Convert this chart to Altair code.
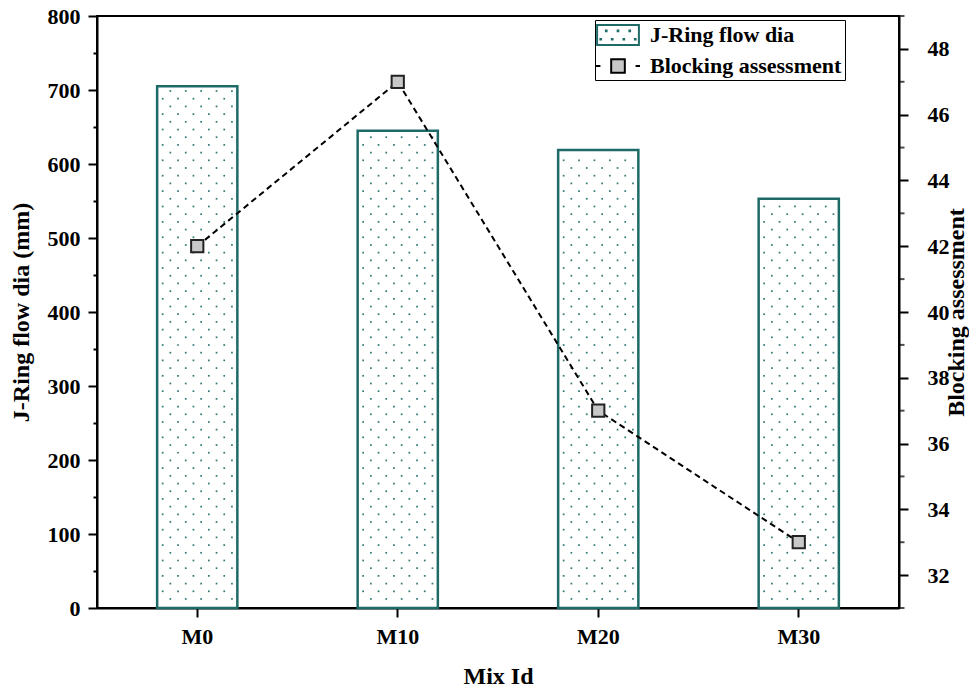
import altair as alt
import pandas as pd
import numpy as np

mixes = ["M0", "M10", "M20", "M30"]
flow_dia = [705, 645, 619, 553]
blocking = [42, 47, 37, 33]
series_names = ["J-Ring flow dia", "Blocking assessment"]
right_major = list(range(32, 49, 2))
right_minor = list(range(31, 50, 2))

TEAL = "#1d6a67"
FONT = "Liberation Serif"

df = pd.DataFrame({"mix": mixes, "flow": flow_dia, "block": blocking})

# dotted texture inside the bars (decoration only, derived from bar heights)
rows = []
for m, v in zip(mixes, flow_dia):
    k = 0
    while True:
        yv = 12.2 + 10.4 * k
        if yv > v - 4:
            break
        start = 13.2 if k % 2 == 0 else 5.5
        for j in range(5):
            rows.append({"mix": m, "flow": yv, "dx": start + 15.4 * j})
        k += 1
dots = pd.DataFrame(rows)

xscale = alt.Scale(paddingInner=0.6, paddingOuter=0.3)
xenc = alt.X(
    "mix:N",
    sort=mixes,
    scale=xscale,
    axis=alt.Axis(
        title="Mix Id", labelAngle=0, tickSize=9, labelPadding=9,
        titlePadding=17,
    ),
)

left_vals = list(range(0, 801, 50))
yleft = alt.Y(
    "flow:Q",
    scale=alt.Scale(domain=[0, 800], nice=False),
    axis=alt.Axis(
        orient="left",
        title="J-Ring flow dia (mm)",
        values=left_vals,
        labelExpr="datum.value % 100 == 0 ? datum.label : ''",
        tickSize={"condition": {"test": "datum.value % 100 != 0", "value": 4}, "value": 9},
        labelPadding=8,
        titlePadding=14,
    ),
)

bars = alt.Chart(df).mark_bar(fill="white", stroke=TEAL, strokeWidth=2.5).encode(
    x=xenc, y=yleft
)

dot_layer = alt.Chart(dots).mark_square(size=3, color=TEAL, opacity=0.9).encode(
    x=xenc,
    xOffset=alt.XOffset("dx:Q", scale=None),
    y=yleft,
)

yright = alt.Y(
    "block:Q",
    scale=alt.Scale(domain=[31, 49], nice=False, zero=False),
    axis=alt.Axis(
        orient="right",
        title="Blocking assessment",
        titleAngle=-90,
        titleBaseline="top",
        titleX=45,
        titleY=296,
        values=right_major,
        tickSize=9,
        labelPadding=19,
    ),
)

line = alt.Chart(df).mark_line(color="black", strokeWidth=2, strokeDash=[6, 4]).encode(
    x=alt.X("mix:N", sort=mixes), y=yright
)
pts = alt.Chart(df).mark_point(
    shape="square", filled=True, fill="#c8c8c8", stroke="#222222", strokeWidth=2,
    size=150, opacity=1,
).encode(x=alt.X("mix:N", sort=mixes), y=yright)

# minor ticks of the right axis
minor_df = pd.DataFrame({"block": right_minor})
minor_ticks = alt.Chart(minor_df).mark_tick(
    color="black", thickness=2, size=5, orient="horizontal"
).encode(x=alt.value(805), y=yright)

bar_sym = (
    "M-1.9,-0.9H1.9V0.9H-1.9Z"
    "M-1.1,-0.4h0.06v0.06h-0.06Z"
    "M-0.03,-0.4h0.06v0.06h-0.06Z"
    "M1.04,-0.4h0.06v0.06h-0.06Z"
    "M-1.6,0.36h0.06v0.06h-0.06Z"
    "M-0.56,0.36h0.06v0.06h-0.06Z"
    "M0.5,0.36h0.06v0.06h-0.06Z"
    "M1.54,0.36h0.06v0.06h-0.06Z"
)
line_sym = "M-2,0H-1.6M1.6,0H2M-0.62,-0.62H0.62V0.62H-0.62Z"

leg = alt.Legend(
    title=None, orient="none", legendX=498, legendY=4,
    strokeColor="black", padding=3, rowPadding=5, labelOffset=20, symbolOffset=8,
    symbolSize=484, symbolStrokeWidth=2, symbolOpacity=1,
    labelFont=FONT, labelFontSize=22, labelFontWeight="bold", labelColor="black",
    labelLimit=400, fillColor="white",
)
leg_df = pd.DataFrame({"series": series_names})
legend_layer = alt.Chart(leg_df).mark_point(filled=True, opacity=0).encode(
    shape=alt.Shape("series:N", sort=series_names,
                    scale=alt.Scale(domain=series_names, range=[bar_sym, line_sym]), legend=leg),
    fill=alt.Fill("series:N", sort=series_names,
                  scale=alt.Scale(domain=series_names, range=["white", "#c8c8c8"]), legend=leg),
    stroke=alt.Stroke("series:N", sort=series_names,
                      scale=alt.Scale(domain=series_names, range=[TEAL, "black"]), legend=leg),
)

left_part = alt.layer(bars, dot_layer)
right_part = alt.layer(line, pts, minor_ticks)

chart = (
    alt.layer(left_part, right_part, legend_layer)
    .resolve_scale(y="independent")
    .properties(width=802, height=592,
                padding={"left": 89, "top": 8, "right": 70, "bottom": 79},
                autosize="none")
    .configure_view(stroke="black", strokeWidth=2)
    .configure_axis(
        labelFont=FONT, labelFontSize=22, labelFontWeight="bold", labelColor="black",
        titleFont=FONT, titleFontSize=24, titleFontWeight="bold", titleColor="black",
        domainColor="black", domainWidth=2, tickColor="black", tickWidth=2,
        grid=False,
    )
)

chart.save("out.html", embed_options={"renderer": "svg", "actions": False})
